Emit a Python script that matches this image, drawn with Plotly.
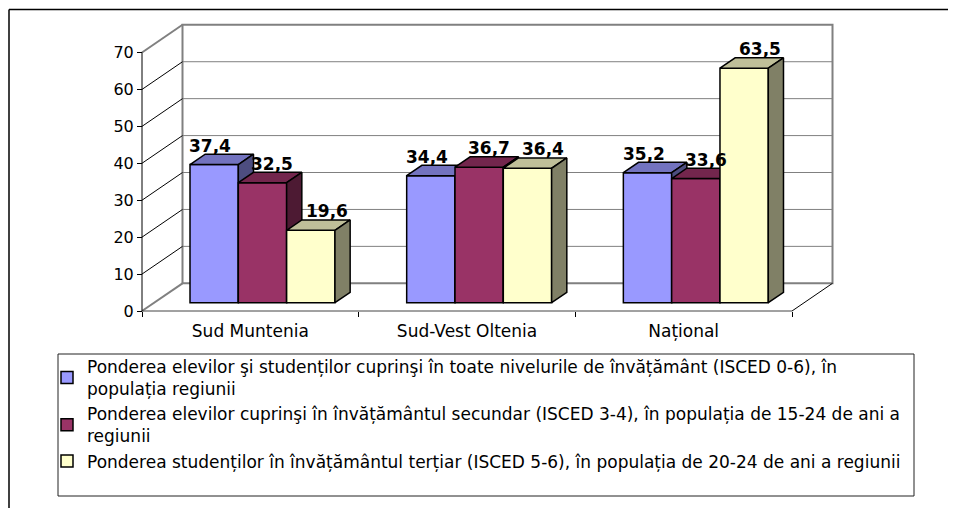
import plotly.graph_objects as go

# ---------------- data ----------------
categories = ["Sud Muntenia", "Sud-Vest Oltenia", "Național"]
series_names = [
    "Ponderea elevilor şi studenților cuprinşi în toate nivelurile de învățământ (ISCED 0-6), în<br>populația regiunii",
    "Ponderea elevilor cuprinşi în învățământul secundar (ISCED 3-4), în populația de 15-24 de ani a<br>regiunii",
    "Ponderea studenților în învățământul terțiar (ISCED 5-6), în populația de 20-24 de ani a regiunii",
]
all_levels = [37.4, 34.4, 35.2]
secondary = [32.5, 36.7, 33.6]
tertiary = [19.6, 36.4, 63.5]
y_ticks = [0, 10, 20, 30, 40, 50, 60, 70]

series_values = [all_levels, secondary, tertiary]

# ---------------- style ----------------
FRONT = ["#9999FF", "#993366", "#FFFFCC"]
TOP = ["#7373BF", "#73264D", "#BFBF99"]
SIDE = ["#4D4D80", "#4D1A33", "#808066"]
LABEL_XSHIFT = [-4, 10, 16]
FONT = "DejaVu Sans"

OFF = 8                                  # page body margin
W, H = 956 - OFF, 508 - OFF
# pixel geometry in window coordinates
PL, PR, PT, PB = 130, 840, 18, 318       # plot area
OX, OY = 142, 311                        # front origin
U = 216.67                               # px per category
S = 3.693                                # px per value unit

DXF = 40.5 / U        # full depth offset (x units)
DYF = 7.5             # full depth offset (value units)
BAR_W = 0.223
DXB = 0.3 * DXF       # bar front plane offset
BASE = 0.3 * DYF
BDX = 0.375 * DXF     # bar depth
BDY = 0.375 * DYF

x_range = [(PL - OX) / U, (PR - OX) / U]
y_range = [(OY - PB) / S, (OY - PT) / S]


def pxx(px):
    return (px - OFF) / W


def pxy(py):
    return 1 - (py - OFF) / H


x_domain = [pxx(PL), pxx(PR)]
y_domain = [pxy(PB), pxy(PT)]

fig = go.Figure()

for s, vals in enumerate(series_values):
    xa = "x" if s == 0 else f"x{s + 1}"
    ya = "y" if s == 0 else f"y{s + 1}"
    centers = [c + 0.5 + (s - 1) * BAR_W + DXB for c in range(len(categories))]
    fig.add_trace(go.Bar(
        x=centers, y=vals, base=BASE, width=BAR_W, name=series_names[s],
        marker=dict(color=FRONT[s], line=dict(color="black", width=1.5)),
        xaxis=xa, yaxis=ya, hoverinfo="skip",
    ))
    tx, ty, sx, sy = [], [], [], []
    for cx, v in zip(centers, vals):
        L = cx - BAR_W / 2
        R = cx + BAR_W / 2
        tx += [L, R, R + BDX, L + BDX, L, None]
        ty += [v + BASE, v + BASE, v + BASE + BDY, v + BASE + BDY, v + BASE, None]
        sx += [R, R + BDX, R + BDX, R, R, None]
        sy += [BASE, BASE + BDY, v + BASE + BDY, v + BASE, BASE, None]
    fig.add_trace(go.Scatter(x=tx, y=ty, mode="lines", fill="toself", fillcolor=TOP[s],
                             line=dict(color="black", width=1.5), showlegend=False,
                             hoverinfo="skip", xaxis=xa, yaxis=ya))
    fig.add_trace(go.Scatter(x=sx, y=sy, mode="lines", fill="toself", fillcolor=SIDE[s],
                             line=dict(color="black", width=1.5), showlegend=False,
                             hoverinfo="skip", xaxis=xa, yaxis=ya))
    for cx, v in zip(centers, vals):
        fig.add_annotation(x=cx, y=v + BASE, xref="x", yref="y",
                           text=f"{v:.1f}".replace(".", ","), showarrow=False,
                           xshift=LABEL_XSHIFT[s], yshift=19, yanchor="middle",
                           font=dict(family=FONT, size=17, color="black", weight="bold"))

# ---------------- walls ----------------
GRAY = "#808080"
ncat = len(categories)
shapes = []
shapes.append(dict(type="rect", x0=DXF, x1=ncat + DXF, y0=DYF, y1=y_ticks[-1] + DYF,
                   line=dict(color=GRAY, width=2), layer="below"))
for v in y_ticks[1:-1]:
    shapes.append(dict(type="line", x0=DXF, x1=ncat + DXF, y0=v + DYF, y1=v + DYF,
                       line=dict(color=GRAY, width=1), layer="below"))
    shapes.append(dict(type="line", x0=0, x1=DXF, y0=v, y1=v + DYF,
                       line=dict(color="black", width=1), layer="below"))
for v in (y_ticks[0], y_ticks[-1]):
    shapes.append(dict(type="line", x0=0, x1=DXF, y0=v, y1=v + DYF,
                       line=dict(color=GRAY, width=2), layer="below"))
shapes.append(dict(type="line", x0=0, x1=ncat, y0=0, y1=0,
                   line=dict(color="#444", width=1), layer="below"))
shapes.append(dict(type="line", x0=ncat, x1=ncat + DXF, y0=0, y1=DYF,
                   line=dict(color="black", width=1), layer="below"))
shapes.append(dict(type="line", x0=0, x1=0, y0=0, y1=y_ticks[-1],
                   line=dict(color="black", width=1), layer="below"))
for sh in shapes:
    sh.update(xref="x", yref="y")

# outer frame and legend box (paper = whole figure)
shapes.append(dict(type="line", xref="paper", yref="paper",
                   x0=pxx(9), x1=pxx(990), y0=pxy(9.5), y1=pxy(9.5),
                   line=dict(color="black", width=1.5)))
shapes.append(dict(type="line", xref="paper", yref="paper",
                   x0=pxx(9), x1=pxx(9), y0=pxy(9.5), y1=pxy(540),
                   line=dict(color="black", width=1.5)))
shapes.append(dict(type="rect", xref="paper", yref="paper",
                   x0=pxx(58), x1=pxx(914), y0=pxy(496), y1=pxy(354),
                   line=dict(color="#222", width=1)))

fig.update_layout(
    width=W, height=H,
    margin=dict(l=0, r=0, t=0, b=0, pad=0),
    paper_bgcolor="white", plot_bgcolor="white",
    barmode="overlay",
    shapes=shapes,
    font=dict(family=FONT, color="black"),
    xaxis=dict(domain=x_domain, range=x_range, showgrid=False, zeroline=False, showline=False,
               tickmode="array", tickvals=[c + 0.5 for c in range(ncat)], ticktext=categories,
               ticks="", tickfont=dict(family=FONT, size=17, color="black"),
               ticklabelstandoff=8,
               anchor="free", position=pxy(OY), automargin=False,
               minor=dict(tickmode="array", tickvals=list(range(ncat + 1)), ticks="outside",
                          ticklen=5, tickcolor="black", tickwidth=1),
               fixedrange=True),
    yaxis=dict(domain=y_domain, range=y_range, showgrid=False, zeroline=False, showline=False,
               tickmode="array", tickvals=y_ticks, ticks="outside", ticklen=5,
               tickcolor="black", tickfont=dict(family=FONT, size=16, color="black"),
               anchor="free", position=pxx(OX), automargin=False, fixedrange=True),
    xaxis2=dict(domain=x_domain, range=x_range, overlaying="x", anchor="y2", visible=False, fixedrange=True),
    yaxis2=dict(domain=y_domain, range=y_range, overlaying="y", anchor="x2", visible=False, fixedrange=True),
    xaxis3=dict(domain=x_domain, range=x_range, overlaying="x", anchor="y3", visible=False, fixedrange=True),
    yaxis3=dict(domain=y_domain, range=y_range, overlaying="y", anchor="x3", visible=False, fixedrange=True),
    legend=dict(x=pxx(47), y=pxy(349), xanchor="left", yanchor="top",
                bgcolor="rgba(0,0,0,0)", borderwidth=0, itemwidth=30,
                font=dict(family=FONT, size=17, color="black"), traceorder="normal"),
    showlegend=True,
)

fig.write_html("out.html")
